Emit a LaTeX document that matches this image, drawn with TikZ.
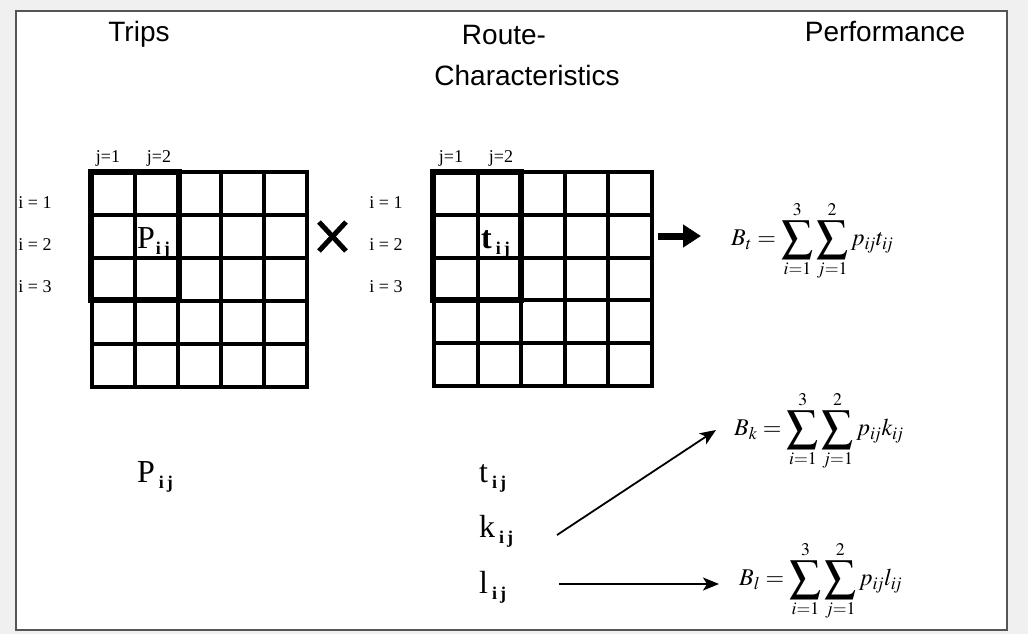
\documentclass[tikz,border=0pt]{standalone}
\usepackage{mathptmx}
\usepackage{graphicx}
\usepackage{fontspec}
\setmainfont{Liberation Serif}
\newfontfamily\arialf{Liberation Sans}
\usetikzlibrary{arrows.meta}
\definecolor{bgout}{HTML}{F0F0F0}
\definecolor{framec}{HTML}{555555}
\tikzset{
  title/.style={font=\arialf\fontsize{28}{30}\selectfont, inner sep=0pt, anchor=base},
  idx/.style={font=\fontsize{18}{20}\selectfont, inner sep=0pt, anchor=base},
  cellv/.style={font=\fontsize{32}{34}\selectfont, inner sep=0pt, anchor=base west},
  formula/.style={font=\fontsize{24}{27}\selectfont, inner sep=0pt, anchor=west},
  gridline/.style={line width=4pt, line cap=rect},
  hilite/.style={line width=6pt, line join=miter},
  thinarrow/.style={line width=1.8pt, -{Stealth[length=16pt,width=13pt,inset=4pt]}},
  fatarrow/.style={line width=7pt, -{Triangle[length=18pt,width=22pt]}},
}
\newcommand{\sub}[1]{\hspace{4pt}\raisebox{-6pt}{\fontsize{18}{20}\selectfont\bfseries #1}}
\newcommand{\bigsum}{\mathop{\vcenter{\hbox{\scalebox{1.3}{$\displaystyle\sum$}}}}\limits}
\begin{document}
\begin{tikzpicture}[x=1pt,y=-1pt]
\useasboundingbox (0,0) rectangle (1028,634);
\fill[bgout] (0,0) rectangle (1028,634);
\filldraw[fill=white, draw=framec, line width=2pt] (16,11) rectangle (1007,630);

% titles
\node[title] (trips) at (139,42) {Trips};
\node[title] (route) at (504,45) {Route-};
\node[title] (charac) at (527,85) {Characteristics};
\node[title] (perf) at (885,42) {Performance};

% grid A
\foreach \k in {0,...,5} {
  \draw[gridline] ({92+43*\k},172) -- ({92+43*\k},387);
  \draw[gridline] (92,{172+43*\k}) -- (307,{172+43*\k});
}
\draw[hilite] (91,172) rectangle (179,300);
% grid B
\foreach \k in {0,...,5} {
  \draw[gridline] ({434+43.6*\k},172) -- ({434+43.6*\k},386);
  \draw[gridline] (434,{172+42.8*\k}) -- (652,{172+42.8*\k});
}
\draw[hilite] (433,172) rectangle (521,300);

% index labels
\node[idx] (aj1) at (108,162) {j=1};
\node[idx] (aj2) at (159,162) {j=2};
\node[idx] (ai1) at (35,208) {i = 1};
\node[idx] (ai2) at (35,250) {i = 2};
\node[idx] (ai3) at (35,292) {i = 3};
\node[idx] (bj1) at (451,162) {j=1};
\node[idx] (bj2) at (501,162) {j=2};
\node[idx] (bi1) at (386,208) {i = 1};
\node[idx] (bi2) at (386,250) {i = 2};
\node[idx] (bi3) at (386,292) {i = 3};

% cell values
\node[cellv] (pcell) at (137,248) {P\hspace{-3pt}\sub{i\,j}};
\node[cellv] (tcell) at (481,248) {\bfseries t\sub{i\,j}};

% multiplication sign
\draw[line width=5pt] (319,222) -- (346,251);
\draw[line width=5pt] (346,222) -- (319,251);

% formulas
\node[formula] (bt) at (731,241) {$\displaystyle B_t=\bigsum_{i=1}^{3}\bigsum_{j=1}^{2}p_{i\!j}t_{i\!j}$};
\node[formula] (bk) at (734,431) {$\displaystyle B_k=\bigsum_{i=1}^{3}\bigsum_{j=1}^{2}p_{i\!j}k_{i\!j}$};
\node[formula] (bl) at (739,581) {$\displaystyle B_l=\bigsum_{i=1}^{3}\bigsum_{j=1}^{2}p_{i\!j}l_{i\!j}$};

% bottom labels
\node[cellv] (pbot) at (137,482) {P\sub{i\,j}};
\node[cellv] (tbot) at (479,482) {t\sub{i\,j}};
\node[cellv] (kbot) at (479,537) {k\sub{i\,j}};
\node[cellv] (lbot) at (479,593) {l\sub{i\,j}};

% arrows
\coordinate (gridBe) at (658,236);
\draw[fatarrow] (gridBe) -- ([xshift=-30pt]bt.west |- gridBe) ;
\coordinate (kstart) at (557,535);
\coordinate (kend) at (716,430);
\draw[thinarrow] (kstart) -- (kend);
\coordinate (lstart) at (559,584);
\draw[thinarrow] (lstart) -- ([xshift=-20pt]bl.west |- lstart);
\end{tikzpicture}
\end{document}
